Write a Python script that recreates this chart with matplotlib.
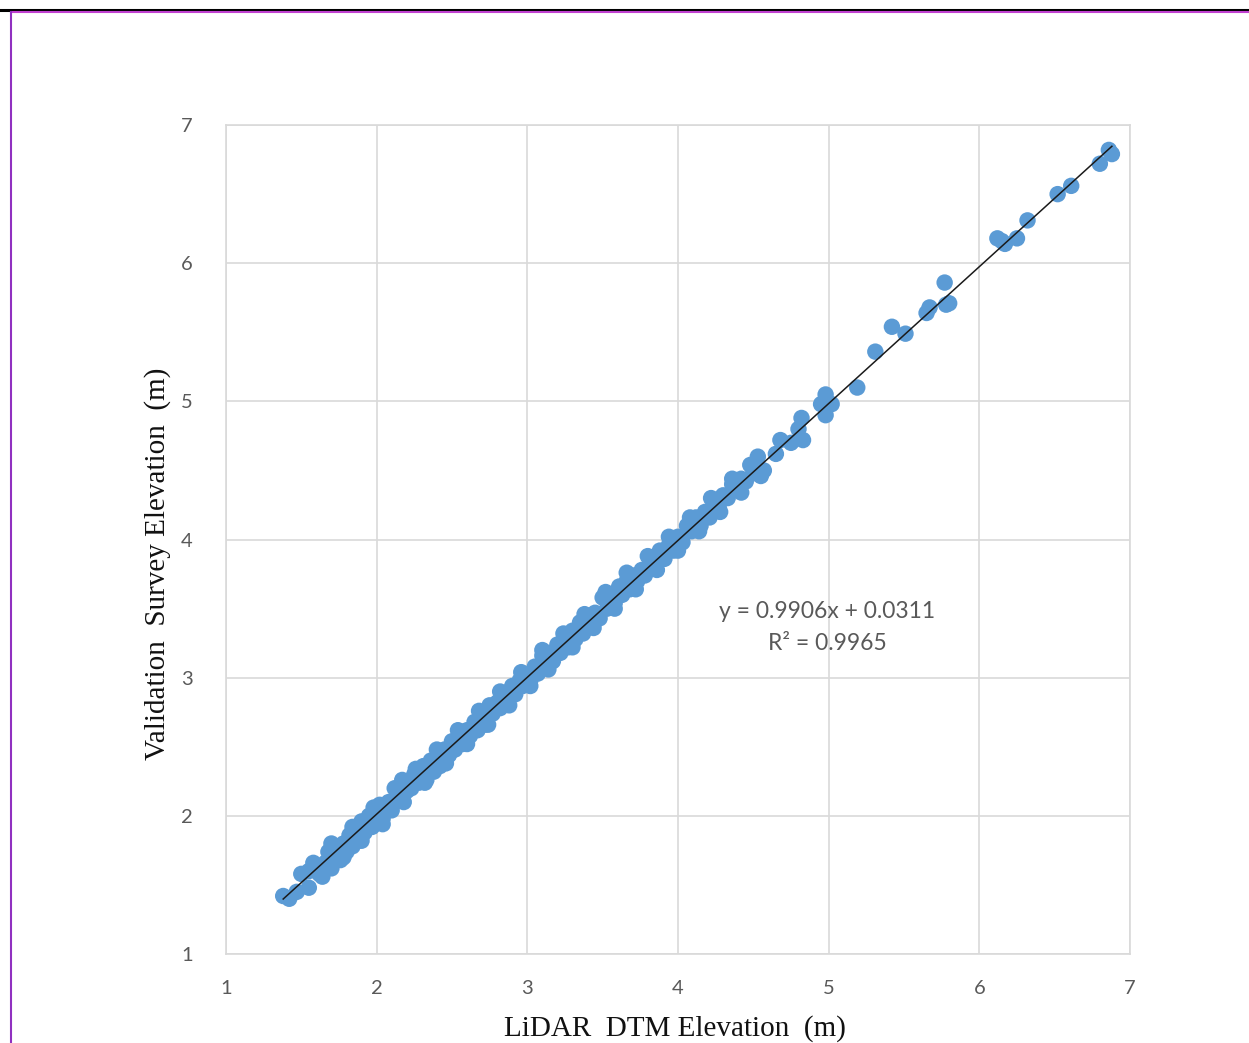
import numpy as np
import matplotlib.pyplot as plt
from matplotlib.lines import Line2D

# LiDAR DTM elevation (x) vs validation survey elevation (y)
lidar_x = [1.38, 1.42, 1.47, 1.50, 1.55, 1.55, 1.60, 1.62, 1.66, 1.68, 1.70, 1.72, 1.74, 1.76,
           1.78, 1.80, 1.82, 1.84, 1.86, 1.88, 1.90, 1.92, 1.95, 1.97, 2.00, 2.02, 2.04, 2.08,
           2.10, 2.13, 2.17, 2.20, 2.23, 2.25, 2.28, 2.31, 2.33, 2.36, 2.38, 2.40, 2.42, 2.45,
           2.48, 2.50, 2.52, 2.55, 2.57, 2.60, 2.62, 2.65, 2.67, 2.70, 2.72, 2.75, 2.77, 2.80,
           2.82, 2.85, 2.87, 2.90, 2.92, 2.95, 2.97, 3.00, 3.02, 3.05, 3.07, 3.10, 3.12, 3.15,
           3.17, 3.20, 3.22, 3.25, 3.27, 3.30, 3.32, 3.35, 3.37, 3.40, 3.42, 3.45, 3.48, 3.50,
           3.53, 3.56, 3.58, 3.61, 3.63, 3.66, 3.68, 3.71, 3.73, 3.76, 3.78, 3.82, 3.85, 3.88,
           3.91, 3.94, 3.97, 4.00, 4.03, 4.06, 4.09, 4.12, 4.15, 4.18, 4.21, 4.24, 4.27, 4.30,
           4.33, 4.36, 4.39, 4.42, 4.45, 4.50, 4.53, 4.57, 4.65, 4.68, 4.75, 4.80, 4.82, 4.83,
           4.95, 4.98, 4.98, 5.02, 5.19, 5.31, 5.42, 5.51, 5.65, 5.67, 5.77, 5.78, 5.80, 6.12,
           6.15, 6.17, 6.25, 6.32, 6.52, 6.61, 6.80, 6.86, 6.88,
           1.58, 1.64, 1.70, 1.78, 1.84, 1.90, 1.98, 2.04, 2.12, 2.18, 2.26, 2.32, 2.40, 2.46,
           2.54, 2.60, 2.68, 2.74, 2.82, 2.88, 2.96, 3.02, 3.10, 3.14, 3.24, 3.30, 3.38, 3.44,
           3.52, 3.58, 3.66, 3.72, 3.80, 3.86, 3.94, 4.00, 4.08, 4.14, 4.22, 4.28, 4.36, 4.42,
           4.48, 4.55]
survey_y = [1.42, 1.40, 1.45, 1.58, 1.48, 1.60, 1.63, 1.58, 1.66, 1.74, 1.62, 1.70, 1.78, 1.68,
            1.80, 1.74, 1.86, 1.78, 1.88, 1.82, 1.96, 1.88, 2.00, 1.92, 2.00, 2.08, 1.98, 2.10,
            2.04, 2.12, 2.26, 2.18, 2.20, 2.30, 2.24, 2.36, 2.26, 2.40, 2.32, 2.42, 2.36, 2.48,
            2.44, 2.54, 2.48, 2.58, 2.52, 2.62, 2.58, 2.68, 2.62, 2.72, 2.66, 2.80, 2.74, 2.82,
            2.78, 2.88, 2.84, 2.94, 2.88, 2.98, 2.94, 3.02, 2.98, 3.08, 3.03, 3.16, 3.08, 3.18,
            3.12, 3.24, 3.18, 3.30, 3.22, 3.34, 3.28, 3.40, 3.32, 3.44, 3.38, 3.47, 3.43, 3.58,
            3.50, 3.58, 3.54, 3.66, 3.60, 3.70, 3.64, 3.74, 3.70, 3.78, 3.74, 3.86, 3.82, 3.92,
            3.86, 3.96, 3.92, 4.02, 3.98, 4.10, 4.06, 4.16, 4.10, 4.20, 4.16, 4.28, 4.24, 4.32,
            4.30, 4.40, 4.36, 4.44, 4.42, 4.48, 4.60, 4.50, 4.62, 4.72, 4.70, 4.80, 4.88, 4.72,
            4.98, 5.05, 4.90, 4.98, 5.10, 5.36, 5.54, 5.49, 5.64, 5.68, 5.86, 5.70, 5.71, 6.18,
            6.16, 6.14, 6.18, 6.31, 6.50, 6.56, 6.72, 6.82, 6.79,
            1.66, 1.56, 1.80, 1.70, 1.92, 1.82, 2.06, 1.94, 2.20, 2.10, 2.34, 2.24, 2.48, 2.38,
            2.62, 2.52, 2.76, 2.66, 2.90, 2.80, 3.04, 2.94, 3.20, 3.06, 3.32, 3.22, 3.46, 3.36,
            3.62, 3.50, 3.76, 3.64, 3.88, 3.78, 4.02, 3.92, 4.16, 4.06, 4.30, 4.20, 4.44, 4.34,
            4.54, 4.46]

fit_slope = 0.9906
fit_intercept = 0.0311
fit_r2 = 0.9965

ticks = [1, 2, 3, 4, 5, 6, 7]

plt.rcParams['font.family'] = ['Lato', 'DejaVu Sans']
grey = '#595959'

fig = plt.figure(figsize=(12.49, 10.43), dpi=100)
ax = fig.add_axes([0.1809, 0.0853, 0.7238, 0.7948])

ax.scatter(lidar_x, survey_y, s=140, color='#5b9bd5', edgecolors='none', zorder=3)

line_x = np.array([min(lidar_x), max(lidar_x)])
ax.plot(line_x, fit_slope * line_x + fit_intercept, color='#1a1a1a', lw=1.1, zorder=4)

ax.text(4.99, 3.48, 'y = %.4fx + %.4f' % (fit_slope, fit_intercept), ha='center',
        va='center', fontsize=16.5, color=grey, zorder=5)
ax.text(4.99, 3.25, 'R² = %.4f' % fit_r2, ha='center', va='center',
        fontsize=16.5, color=grey, zorder=5)

ax.set_xlim(1, 7)
ax.set_ylim(1, 7)
ax.set_xticks(ticks)
ax.set_yticks(ticks)
ax.tick_params(length=0, labelsize=14.5, labelcolor=grey)
ax.tick_params(axis='x', pad=19)
ax.tick_params(axis='y', pad=24)
ax.grid(True, color='#d9d9d9', lw=1.2, zorder=0)
ax.set_axisbelow(True)
for sp in ax.spines.values():
    sp.set_color('#d9d9d9')
    sp.set_linewidth(1.2)

ax.set_xlabel('LiDAR  DTM Elevation  (m)', family='Liberation Serif', fontsize=21,
              color='#111111')
ax.set_ylabel('Validation  Survey Elevation  (m)', family='Liberation Serif', fontsize=21,
              color='#111111')
ax.xaxis.label.set_va('center')
ax.yaxis.label.set_va('center')
ax.xaxis.set_label_coords(0.497, -0.0893)
ax.yaxis.set_label_coords(-0.0752, 0.471)

# frame lines around the screenshot
fig.add_artist(Line2D([0, 1], [1 - 9.5 / 1043] * 2, color='black', lw=2.2))
fig.add_artist(Line2D([11 / 1249, 1], [1 - 12 / 1043] * 2, color='#c040d0', lw=1.5))
fig.add_artist(Line2D([11 / 1249] * 2, [0, 1 - 12 / 1043], color='#9030c0', lw=1.5))

fig.savefig('out.png', dpi=100)
